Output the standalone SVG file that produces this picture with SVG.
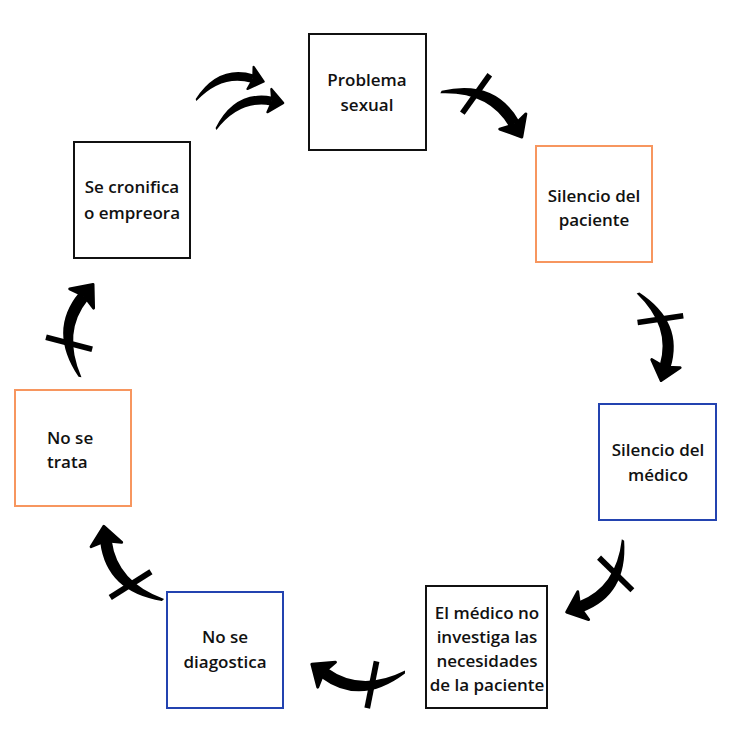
<svg xmlns="http://www.w3.org/2000/svg" xmlns:xlink="http://www.w3.org/1999/xlink" width="754" height="754" viewBox="0 0 754 754">
<style>
.box{fill:#fff;stroke-width:2}
.k{stroke:#111}
.o{stroke:#f7965f}
.b{stroke:#2343b0}
text{font-family:"Open Sans","Liberation Sans",sans-serif;font-weight:600;font-size:17px;fill:#111;text-anchor:middle}
.bar{stroke:#000;stroke-width:6;stroke-linecap:butt}
</style>
<defs>
<g id="arr">
<path d="M0,-1.5 Q45,-38 87.3,-9 L80.7,1 Q45,-23 0,1.5 Z" fill="#000"/>
<path d="M97.3,4.8 L90.3,-19 L84.8,-3.5 L72.7,7.6 Z" fill="#000" stroke="#000" stroke-width="3" stroke-linejoin="round"/>
</g>
<g id="barr">
<use xlink:href="#arr"/>
<line class="bar" x1="38" y1="-39" x2="30" y2="10"/>
</g>
</defs>
<rect width="754" height="754" fill="#fff"/>
<g id="connectors">
<use xlink:href="#barr" transform="translate(441,92) rotate(26.3) scale(0.95)"/>
<use xlink:href="#barr" transform="translate(638,293) rotate(72.4) scale(0.93)"/>
<use xlink:href="#barr" transform="translate(623,540) rotate(125.2) scale(0.94)"/>
<use xlink:href="#barr" transform="translate(405,672) rotate(182) scale(0.96)"/>
<use xlink:href="#barr" transform="translate(163,600) rotate(228.4) scale(0.97)"/>
<use xlink:href="#barr" transform="translate(80,377) rotate(-84.8) scale(0.96)"/>
<use xlink:href="#arr" transform="translate(196,100) rotate(-18) scale(0.72)"/>
<use xlink:href="#arr" transform="translate(216,129) rotate(-24) scale(0.74)"/>
</g>
<g id="n1"><rect class="box k" x="309" y="34" width="117" height="116"/><text x="367" y="86">Problema</text><text x="367" y="111">sexual</text></g>
<g id="n2"><rect class="box o" x="536" y="146" width="116" height="116"/><text x="594" y="202">Silencio del</text><text x="594" y="226">paciente</text></g>
<g id="n3"><rect class="box b" x="599" y="404" width="117" height="116"/><text x="658" y="456">Silencio del</text><text x="658" y="481">médico</text></g>
<g id="n4"><rect class="box k" x="426" y="586" width="121" height="122"/><text x="487" y="619">El médico no</text><text x="487" y="643">investiga las</text><text x="487" y="667">necesidades</text><text x="487" y="691">de la paciente</text></g>
<g id="n5"><rect class="box b" x="167" y="592" width="116" height="116"/><text x="225" y="643">No se</text><text x="225" y="668">diagostica</text></g>
<g id="n6"><rect class="box o" x="15" y="390" width="116" height="116"/><text x="47" y="444" style="text-anchor:start">No se</text><text x="47" y="468" style="text-anchor:start">trata</text></g>
<g id="n7"><rect class="box k" x="74" y="142" width="116" height="116"/><text x="132" y="193">Se cronifica</text><text x="132" y="219">o empreora</text></g>
</svg>
